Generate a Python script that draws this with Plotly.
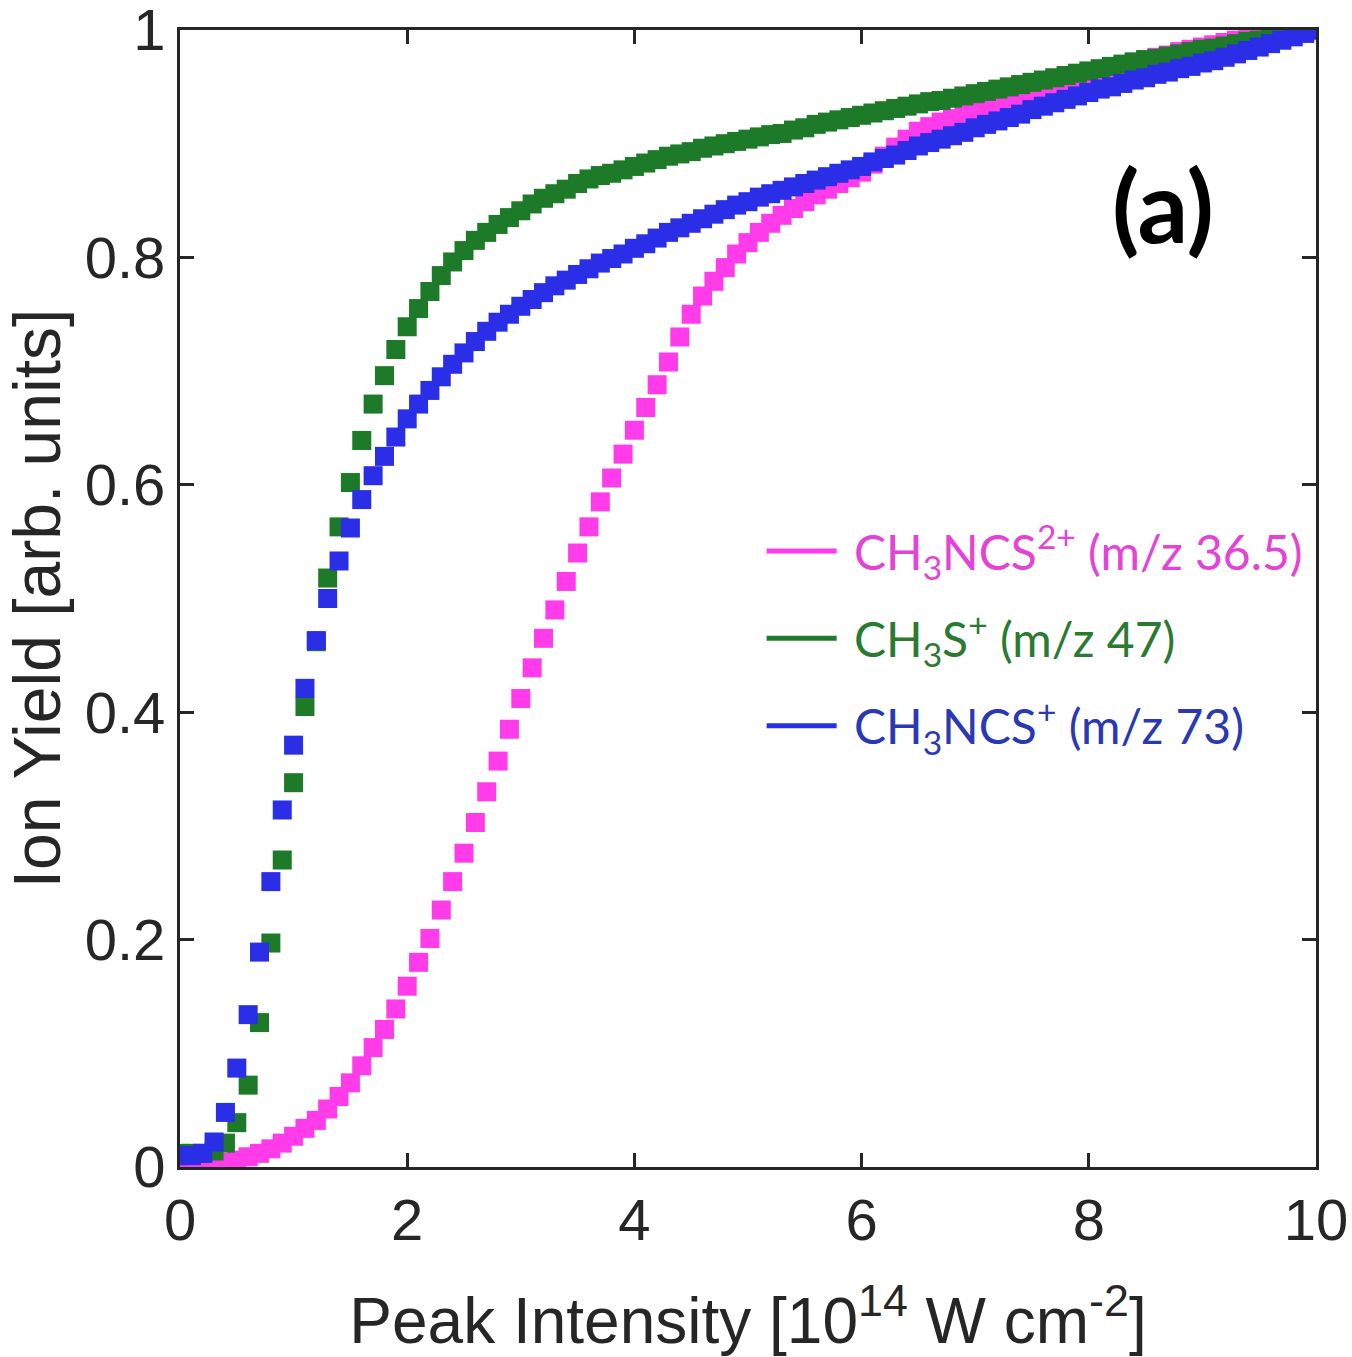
import plotly.graph_objects as go

# Peak intensity [10^14 W cm^-2]
intensity = [round(i * 0.1, 1) for i in range(101)]

# CH3NCS2+ (m/z 36.5)
y_ch3ncs2 = [0.000, 0.000, 0.001, 0.002, 0.004, 0.006, 0.009, 0.012, 0.016, 0.021,
             0.027, 0.034, 0.041, 0.051, 0.062, 0.074, 0.089, 0.105, 0.121, 0.139,
             0.159, 0.180, 0.201, 0.226, 0.251, 0.276, 0.303, 0.330, 0.357, 0.385,
             0.412, 0.439, 0.465, 0.490, 0.515, 0.540, 0.563, 0.585, 0.606, 0.627,
             0.648, 0.668, 0.688, 0.708, 0.730, 0.750, 0.766, 0.779, 0.791, 0.803,
             0.813, 0.822, 0.830, 0.837, 0.843, 0.849, 0.855, 0.860, 0.865, 0.870,
             0.875, 0.882, 0.889, 0.897, 0.904, 0.911, 0.915, 0.919, 0.922, 0.926,
             0.929, 0.932, 0.935, 0.938, 0.941, 0.944, 0.947, 0.950, 0.953, 0.956,
             0.959, 0.962, 0.965, 0.968, 0.971, 0.973, 0.976, 0.978, 0.981, 0.983,
             0.985, 0.987, 0.989, 0.991, 0.993, 0.995, 0.996, 0.997, 0.998, 0.999,
             1.000]

# CH3S+ (m/z 47)
y_ch3s = [0.012, 0.012, 0.012, 0.014, 0.021, 0.039, 0.072, 0.127, 0.197, 0.270,
          0.338, 0.405, 0.462, 0.518, 0.563, 0.602, 0.639, 0.671, 0.696, 0.719,
          0.739, 0.755, 0.770, 0.784, 0.796, 0.806, 0.815, 0.822, 0.829, 0.835,
          0.841, 0.847, 0.852, 0.856, 0.860, 0.865, 0.869, 0.872, 0.874, 0.877,
          0.880, 0.883, 0.886, 0.889, 0.891, 0.893, 0.896, 0.898, 0.900, 0.902,
          0.904, 0.906, 0.908, 0.909, 0.912, 0.914, 0.917, 0.919, 0.921, 0.923,
          0.925, 0.927, 0.929, 0.931, 0.933, 0.935, 0.937, 0.938, 0.940, 0.942,
          0.944, 0.946, 0.948, 0.950, 0.952, 0.954, 0.956, 0.958, 0.960, 0.962,
          0.964, 0.966, 0.968, 0.970, 0.972, 0.974, 0.975, 0.977, 0.979, 0.981,
          0.983, 0.984, 0.986, 0.988, 0.990, 0.991, 0.993, 0.995, 0.997, 0.998,
          1.000]

# CH3NCS+ (m/z 73)
y_ch3ncs = [0.010, 0.010, 0.012, 0.022, 0.048, 0.087, 0.134, 0.189, 0.251, 0.314,
            0.371, 0.421, 0.463, 0.500, 0.533, 0.562, 0.587, 0.608, 0.625, 0.642,
            0.658, 0.671, 0.683, 0.695, 0.706, 0.716, 0.726, 0.735, 0.743, 0.750,
            0.757, 0.763, 0.769, 0.775, 0.780, 0.785, 0.790, 0.795, 0.799, 0.803,
            0.808, 0.812, 0.817, 0.822, 0.826, 0.830, 0.834, 0.838, 0.842, 0.846,
            0.849, 0.853, 0.856, 0.859, 0.862, 0.865, 0.868, 0.871, 0.874, 0.877,
            0.880, 0.884, 0.887, 0.890, 0.894, 0.898, 0.901, 0.904, 0.907, 0.910,
            0.914, 0.917, 0.920, 0.923, 0.926, 0.930, 0.933, 0.936, 0.939, 0.942,
            0.945, 0.948, 0.950, 0.953, 0.956, 0.958, 0.961, 0.963, 0.966, 0.968,
            0.971, 0.973, 0.976, 0.979, 0.982, 0.985, 0.988, 0.991, 0.994, 0.997,
            1.000]

x_ticks = [0, 2, 4, 6, 8, 10]
x_ticklabels = ["0", "2", "4", "6", "8", "10"]
y_ticks = [0, 0.2, 0.4, 0.6, 0.8, 1]
y_ticklabels = ["0", "0.2", "0.4", "0.6", "0.8", "1"]

series_names = [
    "CH<sub>3</sub>NCS<sup>2+</sup> (m/z 36.5)",
    "CH<sub>3</sub>S<sup>+</sup> (m/z 47)",
    "CH<sub>3</sub>NCS<sup>+</sup> (m/z 73)",
]
marker_colors = ["#FF3BEA", "#1C7A28", "#2A2EE6"]
text_colors = ["#E444D6", "#2A7A32", "#2B38B4"]
series_y = [y_ch3ncs2, y_ch3s, y_ch3ncs]

fig = go.Figure()
for y, c in zip(series_y, marker_colors):
    fig.add_trace(go.Scatter(
        x=intensity, y=y, mode="markers",
        marker=dict(symbol="square", size=19, color=c, line=dict(width=0)),
        showlegend=False, hoverinfo="x+y"))

for i, (name, c, tc) in enumerate(zip(series_names, marker_colors, text_colors)):
    fig.add_trace(go.Scatter(
        x=[None], y=[None], mode="lines",
        line=dict(color=c, width=5),
        name=f"<span style='color:{tc}'>\u00a0{name}</span>",
        legendgroup=f"g{i}", showlegend=True))

tick_font = dict(family="Liberation Sans, Arial, sans-serif", size=58, color="#262626")
xtitle_font = dict(family="Liberation Sans, Arial, sans-serif", size=64, color="#262626")
ytitle_font = dict(family="Liberation Sans, Arial, sans-serif", size=66, color="#262626")

fig.update_xaxes(
    range=[0, 10], tickvals=x_ticks, ticktext=x_ticklabels,
    showline=True, linecolor="#262626", linewidth=3, mirror="ticks",
    ticks="inside", ticklen=14, tickwidth=3, tickcolor="#262626",
    showgrid=False, zeroline=False, tickfont=tick_font,
    ticklabeloverflow="allow", automargin=False,
    title=dict(text="Peak Intensity [10<sup>14</sup> W cm<sup>-2</sup>]",
               font=xtitle_font, standoff=48),
)
fig.update_yaxes(
    range=[0, 1], tickvals=y_ticks, ticktext=y_ticklabels,
    showline=True, linecolor="#262626", linewidth=3, mirror="ticks",
    ticks="inside", ticklen=14, tickwidth=3, tickcolor="#262626",
    showgrid=False, zeroline=False, tickfont=tick_font,
    ticklabeloverflow="allow", automargin=False,
    title=dict(text="Ion Yield [arb. units]", font=ytitle_font, standoff=10),
)

fig.add_annotation(
    x=0.865, y=0.847, xref="paper", yref="paper", text="<b>(a)</b>",
    showarrow=False, font=dict(family="Lato, Open Sans, sans-serif", size=100, color="#000000"),
    xanchor="center", yanchor="middle")

fig.update_layout(
    width=1352, height=1357,
    margin=dict(l=180, r=36, t=30, b=190),
    plot_bgcolor="white", paper_bgcolor="white",
    legend=dict(x=0.512, y=0.575, xanchor="left", yanchor="top",
                bgcolor="rgba(0,0,0,0)", borderwidth=0, itemwidth=70,
                font=dict(family="Lato, Open Sans, sans-serif", size=48),
                tracegroupgap=22),
)

# remove the browser's default 8px body margin so the figure fills the window exactly
fig.write_html("out.html",
               config={"displayModeBar": False},
               post_script="document.body.style.margin='0px';document.body.style.overflow='hidden';")
